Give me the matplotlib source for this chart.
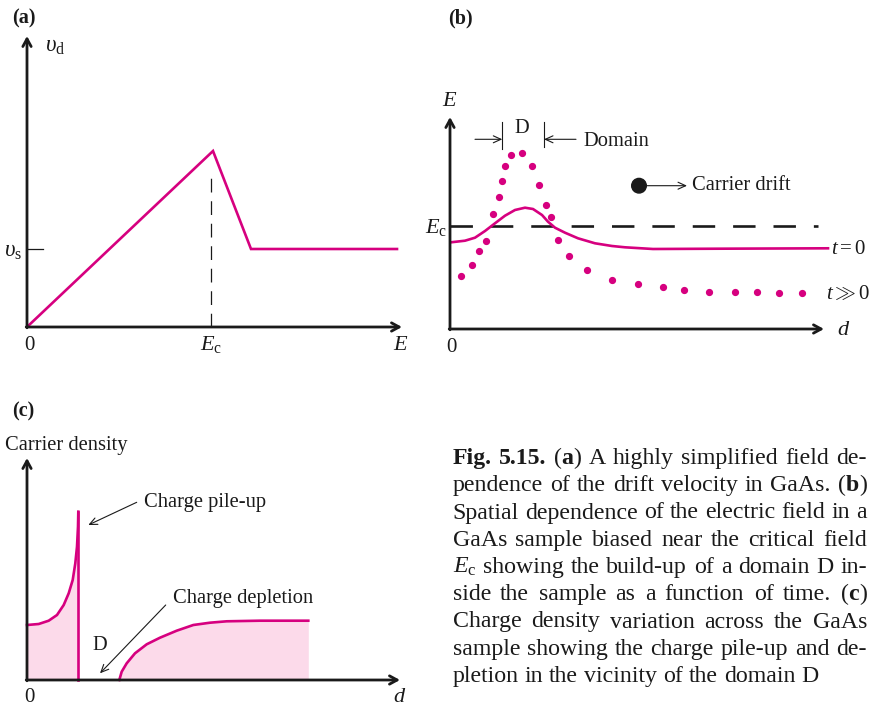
import matplotlib
matplotlib.use("Agg")
import matplotlib.pyplot as plt

plt.rcParams['font.family'] = ['Liberation Serif', 'DejaVu Serif']
plt.rcParams['mathtext.fontset'] = 'custom'
plt.rcParams['mathtext.rm'] = 'Liberation Serif'
plt.rcParams['mathtext.it'] = 'Liberation Serif:italic'
plt.rcParams['mathtext.bf'] = 'Liberation Serif:bold'

W, H = 872, 706
MAG = '#d6007f'
PINK = '#fcdaea'
INK = '#1a1a1a'

# ---------------- data ----------------
# (a) drift velocity vs field (arbitrary units)
a_E = [0, 186, 224, 370]
a_v = [0, 176, 78, 78]
a_Ec = 184
a_Ec_top = 154
a_vs = 78

# (b) electric field vs position
b_t0_d = [1, 15, 25, 35, 45, 55, 65, 75, 83, 92, 98, 105, 115, 128, 145, 162, 175, 203, 270, 378]
b_t0_E = [86.7, 88.3, 91.3, 98, 105.7, 113.3, 119, 121.3, 120, 114, 107.3, 101.3, 96.3, 90.7,
          85.7, 83, 81.7, 80, 80.3, 80.7]
b_late_d = [11, 22, 29, 36, 43, 49, 52, 55, 61, 72, 82, 89, 96, 101, 108, 119, 137, 162, 188,
            213, 234, 259, 285, 307, 329, 352]
b_late_E = [53, 64, 78, 88, 115, 132, 148, 163, 174, 176, 163, 144, 124, 112, 89, 73, 59, 49,
            45, 42, 39, 37, 37, 37, 36, 36]
b_Ec = 102.5
b_Ec_end = 368

# (c) carrier density vs position
c_pile_d = [0, 11.7, 21.7, 30, 36.7, 41.7, 45.7, 48.3, 50, 51, 51.3]
c_pile_n = [55, 56, 59.3, 65, 75, 86.7, 100, 116.7, 133.3, 153.3, 168.3]
c_depl_d = [92.3, 94.7, 99.7, 108, 119.7, 133, 149.7, 166.3, 183, 199.7, 233, 281.3]
c_depl_n = [0, 8.3, 16.7, 26.7, 35.7, 42.3, 49.3, 55, 57.3, 58.7, 59.3, 59.3]

caption_lines = [
    "*Fig.* *5.15.* (*a*) A highly simplified field de-",
    "pendence of the drift velocity in GaAs. (*b*)",
    "Spatial dependence of the electric field in a",
    "GaAs sample biased near the critical field",
    "$E_\\mathrm{c}$ showing the build-up of a domain D in-",
    "side the sample as a function of time. (*c*)",
    "Charge density variation across the GaAs",
    "sample showing the charge pile-up and de-",
    "pletion in the vicinity of the domain D",
]

# ---------------- figure ----------------
fig = plt.figure(figsize=(W / 100, H / 100), dpi=100)


def panel(ox, oy, w, h):
    ax = fig.add_axes([ox / W, (H - oy) / H, w / W, h / H])
    ax.set_xlim(0, w)
    ax.set_ylim(0, h)
    ax.axis('off')
    return ax


AX_ARROW = dict(arrowstyle='->,head_length=0.55,head_width=0.3', lw=2.0, color=INK,
                shrinkA=0, shrinkB=0)
THIN_ARROW = dict(arrowstyle='->,head_length=0.55,head_width=0.25', lw=0.8, color=INK,
                  shrinkA=0, shrinkB=0)


def axes_arrows(ax, xmax, ymax):
    ax.annotate('', xy=(xmax, 0), xytext=(-0.8, 0), arrowprops=AX_ARROW, annotation_clip=False)
    ax.annotate('', xy=(0, ymax), xytext=(0, -0.8), arrowprops=AX_ARROW, annotation_clip=False)


# Panel (a)
axa = panel(27, 327, 376, 292)
axes_arrows(axa, 375, 291)
axa.plot(a_E, a_v, color=MAG, lw=1.9, solid_joinstyle='miter', clip_on=False)
axa.plot([a_Ec, a_Ec], [0, a_Ec_top], color=INK, lw=0.9, dashes=(11, 7), clip_on=False)
axa.plot([0, 16], [a_vs, a_vs], color=INK, lw=0.9, clip_on=False)

# Panel (b)
axb = panel(450, 329, 375, 213)
axes_arrows(axb, 374, 212)
axb.plot([0, b_Ec_end], [b_Ec, b_Ec], color=INK, lw=1.9, dashes=(8.5, 6.8), clip_on=False)
axb.plot(b_t0_d, b_t0_E, color=MAG, lw=1.9, clip_on=False)
axb.plot(b_late_d, b_late_E, ls='none', marker='o', ms=4.2, color=MAG, clip_on=False)

# Panel (c)
axc = panel(27, 680, 374, 223)
axc.fill_between(c_pile_d, 0, c_pile_n, color=PINK, lw=0)
axc.fill_between(c_depl_d, 0, c_depl_n, color=PINK, lw=0)
axc.plot(c_pile_d, c_pile_n, color=MAG, lw=1.9, clip_on=False)
axc.plot([c_pile_d[-1], c_pile_d[-1]], [0, c_pile_n[-1]], color=MAG, lw=1.9, clip_on=False)
axc.plot(c_depl_d, c_depl_n, color=MAG, lw=1.9, clip_on=False)
axes_arrows(axc, 373, 222)

# ---------------- overlay for text (pixel coordinates) ----------------
ov = fig.add_axes([0, 0, 1, 1])
ov.set_xlim(0, W)
ov.set_ylim(H, 0)
ov.axis('off')
ov.patch.set_alpha(0)

LAB = 14.5
ANN = 14.8


def T(x, y, s, size=LAB, ha='left', **kw):
    return ov.text(x, y, s, fontsize=size, ha=ha, va='baseline', color=INK, **kw)


# panel (a) texts
T(12, 23, '(a)', size=14.5, weight='bold')
T(45, 52, r'$\upsilon_{\mathrm{d}}$', size=16.5)
T(4, 257, r'$\upsilon_{\mathrm{s}}$', size=16.5)
T(29, 350, '0', ha='center', size=15)
T(200, 350, r'$E_{\mathrm{c}}$', size=16)
T(393, 350, r'$E$', size=16)

# panel (b) texts
T(448, 23, '(b)', size=14.5, weight='bold')
T(442, 106, r'$E$', size=16)
T(451, 352, '0', ha='center', size=15)
T(837, 335, r'$d$', size=16)
T(425, 233, r'$E_{\mathrm{c}}$', size=16)
T(522, 133, 'D', size=ANN, ha='center')
T(583, 146.5, 'Domain', size=ANN)
T(691.5, 190, 'Carrier drift', size=ANN)
T(831, 254, r'$t = 0$', size=15)
T(826, 299.5, r'$t \gg 0$', size=15)
# domain markers
ov.plot([502.3, 502.3], [121.7, 149], color=INK, lw=0.8)
ov.plot([544, 544], [121.7, 146.5], color=INK, lw=0.8)
ov.annotate('', xy=(502.3, 139.3), xytext=(475, 139.3), arrowprops=THIN_ARROW)
ov.annotate('', xy=(544, 139.3), xytext=(576, 139.3), arrowprops=THIN_ARROW)
# carrier drift
ov.add_patch(plt.Circle((639, 185.7), 7.3, color=INK))
ov.annotate('', xy=(687, 185.7), xytext=(646, 185.7), arrowprops=THIN_ARROW)

# panel (c) texts
T(12.5, 416.5, '(c)', size=14.5, weight='bold')
T(5, 450, 'Carrier density', size=ANN)
T(29, 702, '0', ha='center', size=15)
T(392.5, 702, r'$d$', size=16)
T(144, 506.5, 'Charge pile-up', size=ANN)
T(172.5, 603.5, 'Charge depletion', size=ANN)
T(92.5, 650, 'D', size=ANN)
ov.annotate('', xy=(88.3, 525), xytext=(136.7, 502.3), arrowprops=THIN_ARROW)
ov.annotate('', xy=(100, 673.3), xytext=(165.7, 605), arrowprops=THIN_ARROW)

# ---------------- justified caption ----------------
renderer = fig.canvas.get_renderer()
CAP = 17.2
X0, X1 = 452.5, 867
Y0, DY = 464, 27.25


def parse_word(word):
    parts = word.split('*')
    return [(p, 'bold' if i % 2 else 'normal') for i, p in enumerate(parts) if p]


def make_runs(word):
    objs = []
    for txt, wt in parse_word(word):
        t = ov.text(0, 0, txt, fontsize=CAP, weight=wt, va='baseline', ha='left', color=INK)
        w = t.get_window_extent(renderer).width
        objs.append((t, w))
    return objs


probe1 = ov.text(0, 0, 'x x', fontsize=CAP)
probe2 = ov.text(0, 0, 'xx', fontsize=CAP)
space_w = probe1.get_window_extent(renderer).width - probe2.get_window_extent(renderer).width
probe1.remove()
probe2.remove()

for i, line in enumerate(caption_lines):
    y = Y0 + i * DY
    words = [make_runs(w) for w in line.split(' ')]
    widths = [sum(w for _, w in runs) for runs in words]
    if i < len(caption_lines) - 1 and len(words) > 1:
        gap = (X1 - X0 - sum(widths)) / (len(words) - 1)
    else:
        gap = space_w
    x = X0
    for runs, wsum in zip(words, widths):
        xx = x
        for t, w in runs:
            t.set_position((xx, y))
            xx += w
        x += wsum + gap

fig.savefig('out.png', dpi=100)
